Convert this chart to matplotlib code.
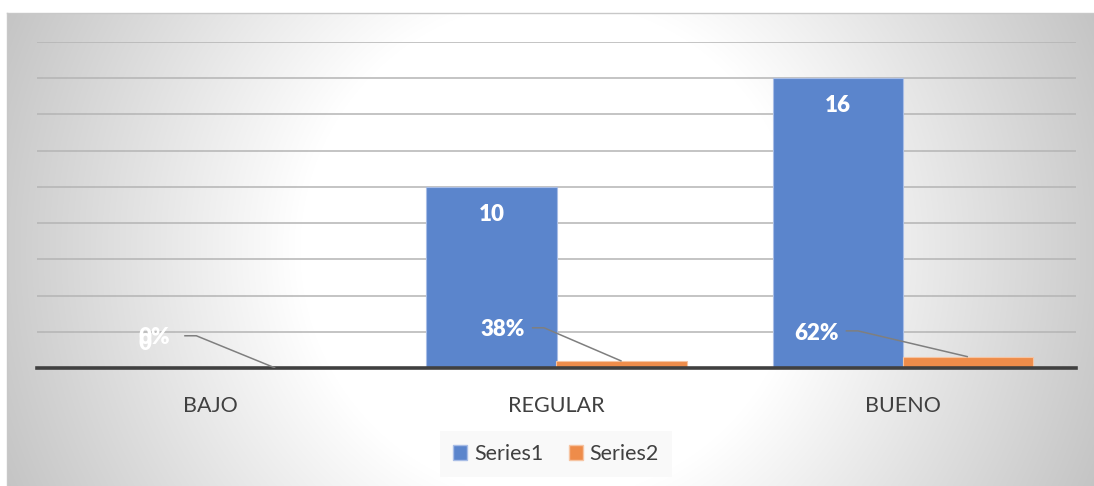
import numpy as np
import matplotlib
matplotlib.use("Agg")
import matplotlib.pyplot as plt
from matplotlib.patches import Patch

# data
categories = ['BAJO', 'REGULAR', 'BUENO']
series1 = [0, 10, 16]
series2 = [0.0, 0.38, 0.62]
series1_labels = ['0', '10', '16']
series2_labels = ['0%', '38%', '62%']

plt.rcParams['font.family'] = ['Lato', 'DejaVu Sans']

W, H = 1094, 486
fig = plt.figure(figsize=(W / 100, H / 100), dpi=100)
fig.patch.set_facecolor('white')

# background: radial gradient like the office chart area
bg = fig.add_axes([7 / W, 0, 1 - 7 / W, 1 - 13 / H], zorder=0)
xx, yy = np.meshgrid(np.arange(7, W), np.arange(13, H))
r = np.hypot(xx - 550, yy - 250)
g = np.clip(255 - 60 * (r - 250) / 350, 190, 255) / 255
bg.imshow(np.dstack([g, g, g]), aspect='auto', extent=[0, 1, 0, 1], origin='upper')
bg.set_xticks([])
bg.set_yticks([])
for s in ['right', 'bottom']:
    bg.spines[s].set_visible(False)
for s in ['top', 'left']:
    bg.spines[s].set_color('#c8c8c8')
    bg.spines[s].set_linewidth(1)

ax = fig.add_axes([37 / W, 1 - 368 / H, (1076 - 37) / W, (368 - 42) / H], zorder=1)
ax.patch.set_alpha(0)

x = np.arange(len(categories))
w = 0.376
blue = '#5b85cc'
orange = '#ee8c4a'
ax.bar(x - w / 2, series1, w, color=blue, edgecolor='#a8bde6', linewidth=0.8, zorder=3,
       label='Series1')
ax.bar(x + w / 2, series2, w, color=orange, edgecolor='#f6c4a2', linewidth=0.8, zorder=3,
       label='Series2')

ax.set_xlim(-0.5, 2.5)
ax.set_ylim(0, 18)
ax.set_yticks(np.arange(0, 19, 2))
ax.yaxis.grid(True, color='#b4b4b4', linewidth=1.1, zorder=1)
ax.tick_params(axis='y', left=False, labelleft=False)
ax.tick_params(axis='x', bottom=False, pad=17, labelsize=15.5, labelcolor='#404040')
ax.set_xticks(x)
ax.set_xticklabels(categories)
for s in ['top', 'right', 'left']:
    ax.spines[s].set_visible(False)
ax.spines['bottom'].set_color('#404040')
ax.spines['bottom'].set_linewidth(2.6)
ax.spines['bottom'].set_zorder(4)

# series1 labels, inside end
for i, v in enumerate(series1):
    ax.text(x[i] - w / 2, v - 1.5 if v > 0 else 1.38, series1_labels[i], color='white',
            fontsize=16, fontweight='heavy', ha='center', va='center', zorder=6)

# series2 labels moved off the bars, with leader lines
lab_dx = [-0.16, -0.156, -0.25]
lab_y = [1.66, 2.1, 1.93]
for i, v in enumerate(series2):
    lx = x[i] + lab_dx[i]
    ax.text(lx, lab_y[i], series2_labels[i], color='white', fontsize=16,
            fontweight='heavy', ha='center', va='center', zorder=6)
    ly = lab_y[i] + 0.12
    ax.plot([lx + 0.085, lx + 0.12, x[i] + w / 2], [ly, ly, v], color='#7f7f7f',
            linewidth=1.1, zorder=5, solid_capstyle='butt')

handles = [Patch(facecolor=blue, edgecolor='#a8bde6'), Patch(facecolor=orange, edgecolor='#f6c4a2')]
leg = fig.legend(handles, ['Series1', 'Series2'], loc='center',
                 bbox_to_anchor=(556 / W, 1 - 454 / H), ncol=2, frameon=True,
                 fontsize=15.5, handlelength=0.65, handleheight=0.65, handletextpad=0.3,
                 columnspacing=1.2, borderpad=0.6, fancybox=False)
leg.get_frame().set_facecolor('#f8f8f8')
leg.get_frame().set_edgecolor('none')
for t in leg.get_texts():
    t.set_color('#404040')

fig.savefig('out.png', dpi=100)
